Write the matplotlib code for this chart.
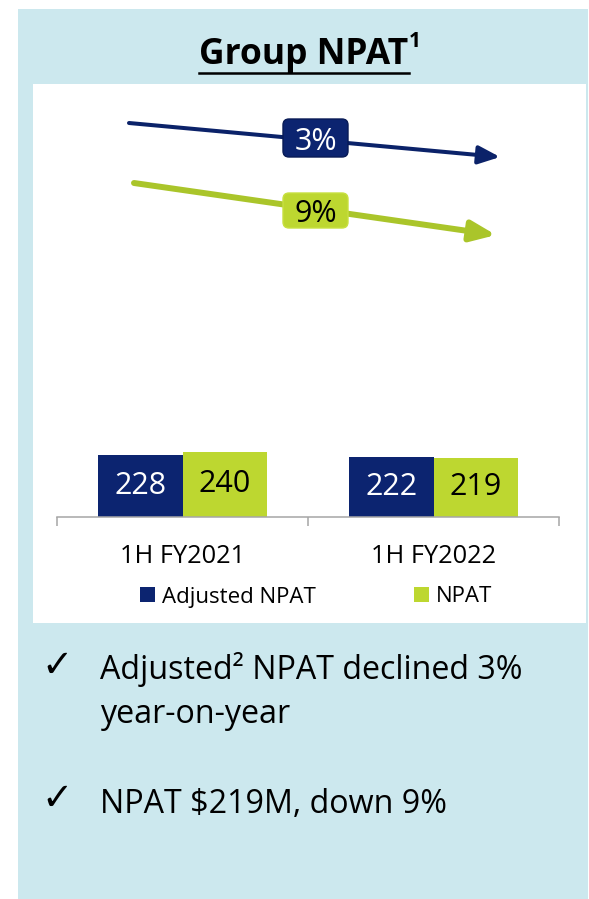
import matplotlib
matplotlib.use("Agg")
import numpy as np
import matplotlib.pyplot as plt
import matplotlib.transforms as mtransforms
from matplotlib.patches import Rectangle, FancyBboxPatch, FancyArrowPatch
from matplotlib.lines import Line2D

# ---------------- data ----------------
categories = ["1H FY2021", "1H FY2022"]
series_names = ["Adjusted NPAT", "NPAT"]
adjusted_npat = [228, 222]
npat = [240, 219]
bullet_lines = ["Adjusted\u00b2 NPAT declined 3%", "year-on-year", "NPAT $219M, down 9%"]
title_text = "Group NPAT"
title_sup = "1"

# ---------------- style ----------------
plt.rcParams["font.family"] = ["Open Sans", "DejaVu Sans"]
NAVY = "#0C2470"
NAVY_ARROW = "#0B2269"
GREEN = "#BDD730"
GREEN_ARROW = "#AAC52A"
PANEL = "#CCE8EE"
GRAY = "#A6A6A6"

W, H, DPI = 589, 899, 100
fig = plt.figure(figsize=(W / DPI, H / DPI), dpi=DPI, facecolor="white")
inch = fig.dpi_scale_trans


def P(x, y):
    """pixel (top-left origin) -> inches (bottom-left origin)"""
    return (x / DPI, (H - y) / DPI)


# background panel and white chart area
fig.add_artist(Rectangle(P(18, 899), 570 / DPI, 890 / DPI, transform=inch,
                         facecolor=PANEL, edgecolor="none", zorder=-2))
fig.add_artist(Rectangle(P(33, 623), 553 / DPI, 539 / DPI, transform=inch,
                         facecolor="white", edgecolor="none", zorder=-1))

# ---------------- bar chart ----------------
base_px, top_px = 516.7, 85.8
ax = fig.add_axes([57 / W, (H - base_px) / H, 502 / W, (base_px - top_px) / H])
ax.set_zorder(1)
ax.patch.set_visible(False)

x = np.arange(len(categories))
w = 0.338
b1 = ax.bar(x - w / 2, adjusted_npat, w, color=NAVY, label=series_names[0])
b2 = ax.bar(x + w / 2, npat, w, color=GREEN, label=series_names[1])
ax.bar_label(b1, label_type="center", color="white", fontsize=22)
ax.bar_label(b2, label_type="center", color="black", fontsize=22)

ax.set_xlim(-0.5, len(categories) - 0.5)
ax.set_ylim(0, 1600)
for s in ["top", "right", "left"]:
    ax.spines[s].set_visible(False)
ax.spines["bottom"].set_color(GRAY)
ax.spines["bottom"].set_linewidth(1.1)
ax.set_yticks([])
ax.set_xticks(np.arange(len(categories) + 1) - 0.5)
ax.set_xticklabels([])
ax.tick_params(axis="x", direction="out", length=6.7, width=1.1, color=GRAY)

trans = mtransforms.blended_transform_factory(ax.transData, inch)
for i, c in enumerate(categories):
    ax.text(i, (H - 563) / DPI, c, transform=trans, ha="center", va="baseline",
            fontsize=18.3, color="black")

fig.legend([b1, b2], series_names, loc="center",
           bbox_to_anchor=(316 / W, 1 - 597 / H), ncol=2, frameon=False,
           fontsize=16, handlelength=0.68, handleheight=0.68,
           handletextpad=0.32, columnspacing=4.4)

# ---------------- trend arrows ----------------
chg_adj = round(abs(adjusted_npat[-1] / adjusted_npat[0] - 1) * 100)
chg_npat = round(abs(npat[-1] / npat[0] - 1) * 100)

arr1 = FancyArrowPatch(P(129, 123), P(500, 157), transform=inch,
                       arrowstyle="-|>,head_length=1.3,head_width=0.55",
                       mutation_scale=10, lw=2.9, color=NAVY_ARROW,
                       shrinkA=0, shrinkB=0, zorder=2)
arr2 = FancyArrowPatch(P(134, 183), P(496, 235), transform=inch,
                       arrowstyle="-|>,head_length=1.5,head_width=0.62",
                       mutation_scale=10, lw=4.3, color=GREEN_ARROW,
                       shrinkA=0, shrinkB=0, zorder=2)
fig.add_artist(arr1)
fig.add_artist(arr2)

box1 = FancyBboxPatch(P(283, 157), 0.65, 0.38, transform=inch,
                      boxstyle="round,pad=0,rounding_size=0.06",
                      facecolor=NAVY, edgecolor="#081A55", lw=1.0, zorder=3)
box2 = FancyBboxPatch(P(283, 228), 0.65, 0.35, transform=inch,
                      boxstyle="round,pad=0,rounding_size=0.06",
                      facecolor=GREEN, edgecolor="#C8E040", lw=1.0, zorder=3)
fig.add_artist(box1)
fig.add_artist(box2)
fig.text(*P(315.5, 150), f"{chg_adj}%", transform=inch, ha="center",
         va="baseline", fontsize=22, color="white", zorder=4)
fig.text(*P(315.5, 222), f"{chg_npat}%", transform=inch, ha="center",
         va="baseline", fontsize=22, color="black", zorder=4)

# ---------------- title ----------------
t = fig.text(*P(304, 64), title_text, transform=inch, ha="center",
             va="baseline", fontsize=25.5, fontweight="bold", color="black")
fig.canvas.draw()
bb = t.get_window_extent(renderer=fig.canvas.get_renderer())
fig.add_artist(Line2D([bb.x0 / DPI, bb.x1 / DPI], [(H - 73) / DPI] * 2,
                      transform=inch, color="black", lw=1.8))
fig.text(bb.x1 / DPI + 0.005, (H - 47) / DPI, title_sup, transform=inch,
         ha="left", va="baseline", fontsize=15, fontweight="bold", color="black")

# ---------------- bullets ----------------
check_kw = dict(transform=inch, ha="left", va="baseline", fontsize=27,
                color="black", family=["DejaVu Sans"])
fig.text(*P(41, 677), "\u2713", **check_kw)
fig.text(*P(41, 810), "\u2713", **check_kw)
text_kw = dict(transform=inch, ha="left", va="baseline", fontsize=23.2,
               color="black")
fig.text(*P(100, 679), bullet_lines[0], **text_kw)
fig.text(*P(100, 723), bullet_lines[1], **text_kw)
fig.text(*P(100, 813), bullet_lines[2], **text_kw)

fig.savefig("out.png", dpi=DPI, facecolor="white")
